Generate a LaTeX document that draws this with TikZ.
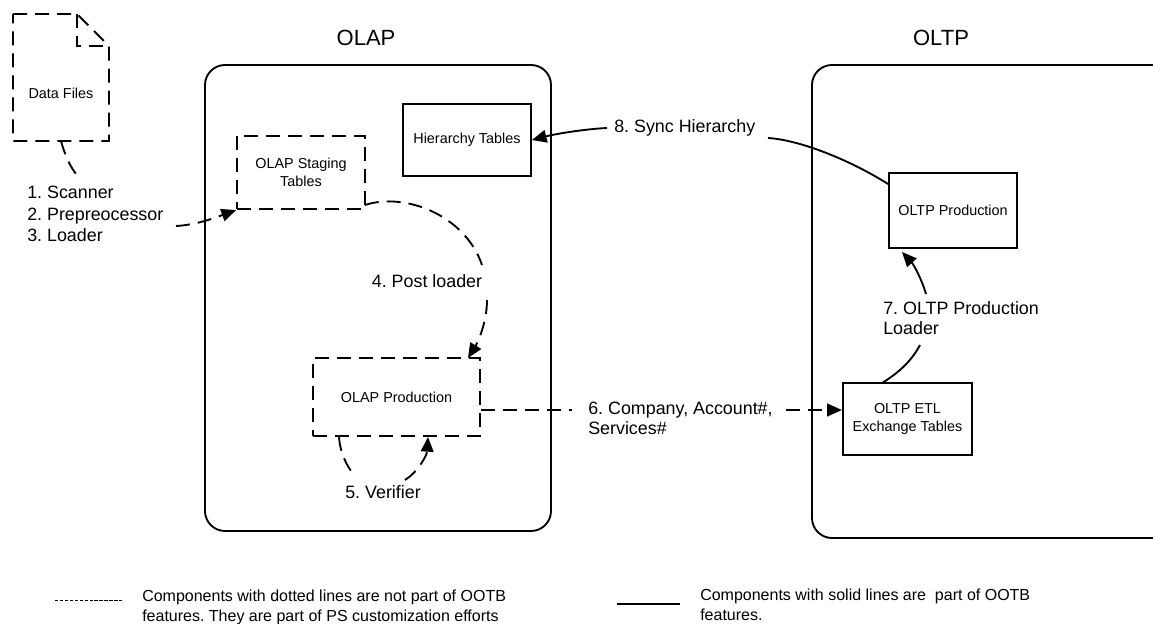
\documentclass[tikz,border=0pt]{standalone}
\usepackage{fontspec}
\setmainfont{Liberation Sans}
\usetikzlibrary{arrows.meta}
\frenchspacing
\tikzset{
  solidln/.style={draw=black,line width=1.4pt},
  dashln/.style={draw=black,line width=1.4pt,dash pattern=on 10.5pt off 6pt},
  frame/.style={solidln,rounded corners=15pt},
  boxsolid/.style={solidln,font=\fontsize{10.8}{13}\selectfont,align=center,inner sep=0pt},
  boxdash/.style={dashln,font=\fontsize{10.8}{13}\selectfont,align=center,inner sep=0pt},
  lbl/.style={font=\fontsize{13.4}{15}\selectfont,align=left,inner sep=0pt},
  title/.style={font=\fontsize{16.5}{18}\selectfont,inner sep=0pt},
  small/.style={font=\fontsize{12}{15}\selectfont,align=left,inner sep=0pt,anchor=west},
  tip/.style={-{Triangle[length=11pt,width=9.5pt]}},
}
\begin{document}
\begin{tikzpicture}[x=0.75pt,y=-0.75pt]
\useasboundingbox (0,0) rectangle (1153,624);
\clip (0,0) rectangle (1153,624);
% frames
\draw[frame] (205,65) rectangle (551,531);
\draw[frame] (812,65) rectangle (1175,538);
\node[title] (olap) at (366,38) {OLAP};
\node[title] (oltp) at (941,38) {OLTP};
% data file
\draw[dashln] (13,14) -- (77,14) -- (109,46) -- (109,141) -- (13,141) -- cycle;
\draw[dashln] (77,14) -- (77,46) -- (109,46);
\node[font=\fontsize{10.8}{12}\selectfont,inner sep=0pt] (files) at (61,93) {Data Files};
\coordinate (fileb) at (61,141);
% boxes
\node[boxdash,minimum width=96pt,minimum height=55pt] (stag) at (301,172.5) {OLAP Staging\\Tables};
\node[boxsolid,minimum width=96pt,minimum height=54pt] (hier) at (467,140) {Hierarchy Tables};
\node[boxdash,minimum width=125pt,minimum height=59pt] (prod) at (396.5,397) {OLAP Production};
\node[boxsolid,minimum width=96pt,minimum height=56pt] (oltpprod) at (953,210.5) {OLTP Production};
\node[boxsolid,minimum width=97pt,minimum height=54pt] (etl) at (907.5,419) {OLTP ETL\\Exchange Tables};
% labels
\node[lbl,anchor=north west] (l1) at (27,186) {1. Scanner\\[1pt]2. Prepreocessor\\[1pt]3. Loader};
\node[lbl] (l4) at (427,281) {4. Post loader};
\node[lbl] (l5) at (383,492) {5. Verifier};
\node[lbl,anchor=west] (l6) at (588,418) {6. Company, Account\#,\\Services\#};
\node[lbl,anchor=west] (l7) at (883,318) {7. OLTP Production\\Loader};
\node[lbl,anchor=west] (l8) at (614,128) {8. Sync Hierarchy};
% connectors
\draw[dashln] (fileb) .. controls (64,152) and (69,165) .. (76,174);
\draw[dashln,tip] (176,226) .. controls (197,225) and (217,217) .. (stag.south west);
\draw[dashln] (365,205) .. controls (405,192) and (465,215) .. (482,265);
\draw[dashln,tip] (487,300) .. controls (487,322) and (478,342) .. (468,358);
\draw[dashln] (339,437) .. controls (340,452) and (346,465) .. (354,475);
\draw[dashln,tip] (405,480) .. controls (418,472) and (427,455) .. (428,437);
\draw[dashln] (prod.east |- 0,410) -- (572,410);
\draw[dashln,tip] (786,410) -- (etl.west |- 0,410);
\draw[solidln] (882,383) .. controls (900,372) and (912,360) .. (920,345);
\draw[solidln,tip] (926,294) .. controls (922,280) and (914,265) .. (902,252);
\draw[solidln] (oltpprod.west |- 0,184) .. controls (850,160) and (800,140) .. (768,138);
\draw[solidln,tip] (607,128) .. controls (585,129) and (555,134) .. (hier.east);
% legend
\coordinate (lda) at (55,600);
\coordinate (ldb) at (122,600);
\coordinate (lsa) at (617,604);
\coordinate (lsb) at (680,604);
\draw[black,line width=0.6pt,dash pattern=on 2.5pt off 1.2pt] (lda) -- (ldb);
\draw[black,line width=0.8pt] (lsa) -- (lsb);
\node[small] (ld) at (142,607) {Components with dotted lines are not part of OOTB\\features. They are part of PS customization efforts};
\node[small] (ls) at (700,605) {Components with solid lines are \ part of OOTB\\features.};
\end{tikzpicture}
\end{document}
